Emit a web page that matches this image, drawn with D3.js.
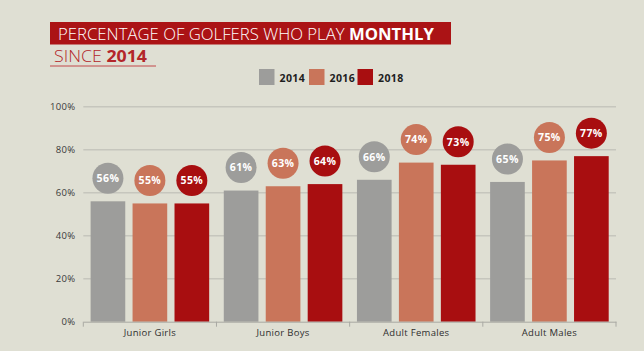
<!DOCTYPE html>
<html>
<head>
<meta charset="utf-8">
<script src="https://cdn.jsdelivr.net/npm/d3@7"></script>
<style>
  body { margin: 0; background: #dfdfd3; }
  svg { display: block; font-family: 'Open Sans', sans-serif; }
</style>
</head>
<body>
<div class="canvas"></div>
<script>
const groups = ['Junior Girls', 'Junior Boys', 'Adult Females', 'Adult Males'];
const years = ['2014', '2016', '2018'];
const values2014 = [56, 61, 66, 65];
const values2016 = [55, 63, 74, 75];
const values2018 = [55, 64, 73, 77];
const yTicks = [0, 20, 40, 60, 80, 100];

const colors = { '2014': '#9d9d9b', '2016': '#c9755a', '2018': '#a80e10' };
const seriesValues = { '2014': values2014, '2016': values2016, '2018': values2018 };

const width = 644, height = 351;
const svg = d3.select('.canvas')
  .append('svg')
  .attr('width', width)
  .attr('height', height);

svg.append('rect')
  .attr('width', width)
  .attr('height', height)
  .attr('fill', '#dfdfd3');

// title block
svg.append('rect')
  .attr('x', 50).attr('y', 22)
  .attr('width', 401).attr('height', 22.5)
  .attr('fill', '#ab1315');

const title = svg.append('text')
  .attr('x', 58).attr('y', 39.5)
  .attr('fill', '#fff')
  .attr('font-size', 15.5)
  .attr('textLength', 376)
  .attr('lengthAdjust', 'spacingAndGlyphs');
title.append('tspan').attr('font-weight', 300).text('PERCENTAGE OF GOLFERS WHO PLAY ');
title.append('tspan').attr('font-weight', 'bold').text('MONTHLY');

const sub = svg.append('text')
  .attr('x', 54).attr('y', 62)
  .attr('fill', '#b3262a')
  .attr('font-size', 15.5)
  .attr('textLength', 93)
  .attr('lengthAdjust', 'spacingAndGlyphs');
sub.append('tspan').attr('font-weight', 300).text('SINCE ');
sub.append('tspan').attr('font-weight', 'bold').text('2014');

svg.append('line')
  .attr('x1', 50).attr('x2', 156)
  .attr('y1', 66).attr('y2', 66)
  .attr('stroke', '#c2484a')
  .attr('stroke-width', 1);

// legend
const legendX = [259, 309, 357.5];
const legend = svg.append('g');
years.forEach((yr, i) => {
  legend.append('rect')
    .attr('x', legendX[i]).attr('y', 69)
    .attr('width', 15.5).attr('height', 16)
    .attr('fill', colors[yr]);
  legend.append('text')
    .attr('x', legendX[i] + 20.5).attr('y', 81.5)
    .attr('font-size', 10.5)
    .attr('font-weight', 'bold')
    .attr('letter-spacing', 0.4)
    .attr('fill', '#1e1e1e')
    .text(yr);
});

// chart area
const margin = { left: 83.3, right: 28, top: 106.7, bottom: 29.3 };
const graphWidth = width - margin.left - margin.right;
const graphHeight = height - margin.top - margin.bottom;

const graph = svg.append('g')
  .attr('transform', `translate(${margin.left}, ${margin.top})`);

const x = d3.scaleBand()
  .domain(groups)
  .range([0, graphWidth]);

const xInner = d3.scaleBand()
  .domain(years)
  .range([0, x.bandwidth()])
  .paddingInner(0.174)
  .paddingOuter(0.174);

const y = d3.scaleLinear()
  .domain([0, 100])
  .range([graphHeight, 0]);

// gridlines
graph.append('g')
  .selectAll('line')
  .data(yTicks.filter(d => d > 0))
  .enter()
  .append('line')
  .attr('x1', 0).attr('x2', graphWidth)
  .attr('y1', d => y(d)).attr('y2', d => y(d))
  .attr('stroke', '#c6c6bd')
  .attr('stroke-width', 1.5);

// y axis labels
const yAxis = d3.axisLeft(y)
  .tickValues(yTicks)
  .tickSize(0)
  .tickPadding(8)
  .tickFormat(d => d + '%');

const yAxisGroup = graph.append('g').call(yAxis);
yAxisGroup.select('.domain').remove();
yAxisGroup.selectAll('text')
  .attr('font-family', "'Open Sans', sans-serif")
  .attr('font-size', 9.5)
  .attr('letter-spacing', 0.3)
  .attr('fill', '#3a3a3a');

// bars
const bars = [];
groups.forEach((g, gi) => {
  years.forEach(yr => {
    bars.push({ group: g, year: yr, value: seriesValues[yr][gi] });
  });
});

const barGroup = graph.append('g');
barGroup.selectAll('rect')
  .data(bars)
  .enter()
  .append('rect')
  .attr('x', d => x(d.group) + xInner(d.year))
  .attr('y', d => y(d.value))
  .attr('width', xInner.bandwidth())
  .attr('height', d => graphHeight - y(d.value))
  .attr('fill', d => colors[d.year]);

// value bubbles
const bubbles = graph.append('g');
bubbles.selectAll('circle')
  .data(bars)
  .enter()
  .append('circle')
  .attr('cx', d => x(d.group) + xInner(d.year) + xInner.bandwidth() / 2)
  .attr('cy', d => y(d.value) - 23)
  .attr('r', 15.5)
  .attr('fill', d => colors[d.year]);

bubbles.selectAll('text')
  .data(bars)
  .enter()
  .append('text')
  .attr('x', d => x(d.group) + xInner(d.year) + xInner.bandwidth() / 2)
  .attr('y', d => y(d.value) - 23)
  .attr('dy', '0.36em')
  .attr('text-anchor', 'middle')
  .attr('font-size', 10.5)
  .attr('font-weight', 'bold')
  .attr('letter-spacing', 0.4)
  .attr('fill', '#fff')
  .text(d => d.value + '%');

// x axis
const xAxis = d3.axisBottom(x)
  .tickSize(0)
  .tickPadding(8);

const xAxisGroup = graph.append('g')
  .attr('transform', `translate(0, ${graphHeight})`)
  .call(xAxis);
xAxisGroup.select('.domain')
  .attr('stroke', '#a9a9a3')
  .attr('stroke-width', 1);
xAxisGroup.selectAll('text')
  .attr('font-family', "'Open Sans', sans-serif")
  .attr('font-size', 9.5)
  .attr('letter-spacing', 0.3)
  .attr('fill', '#2e2e2e');

// band boundary ticks
xAxisGroup.append('g')
  .selectAll('line')
  .data(groups.map(g => x(g)).concat([graphWidth]))
  .enter()
  .append('line')
  .attr('x1', d => d).attr('x2', d => d)
  .attr('y1', 0).attr('y2', 5)
  .attr('stroke', '#a9a9a3');
</script>
</body>
</html>
